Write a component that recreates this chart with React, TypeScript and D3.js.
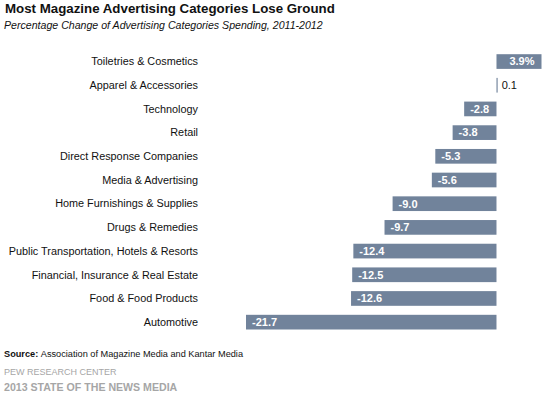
import React, { useEffect, useRef } from 'react';
import * as d3 from 'd3';

const categories = [
  'Toiletries & Cosmetics',
  'Apparel & Accessories',
  'Technology',
  'Retail',
  'Direct Response Companies',
  'Media & Advertising',
  'Home Furnishings & Supplies',
  'Drugs & Remedies',
  'Public Transportation, Hotels & Resorts',
  'Financial, Insurance & Real Estate',
  'Food & Food Products',
  'Automotive',
];
const changes = [3.9, 0.1, -2.8, -3.8, -5.3, -5.6, -9.0, -9.7, -12.4, -12.5, -12.6, -21.7];
const valueLabels = ['3.9%', '0.1', '-2.8', '-3.8', '-5.3', '-5.6', '-9.0', '-9.7', '-12.4', '-12.5', '-12.6', '-21.7'];

const App = () => {
  const svgRef = useRef<SVGSVGElement>(null);

  useEffect(() => {
    const svg = d3.select(svgRef.current);
    svg.selectAll('*').remove();

    const font = 'Arial, "Liberation Sans", sans-serif';
    const barColor = '#71839b';

    const rows = categories.map((c, i) => ({ cat: c, value: changes[i], label: valueLabels[i] }));

    const x = d3.scaleLinear().domain([-21.7, 3.9]).range([246, 541.5]);
    const y = d3.scaleBand()
      .domain(categories)
      .range([49.7, 334])
      .paddingInner(0.38)
      .paddingOuter(0.19);

    // title + subtitle
    svg.append('text')
      .attr('x', 5).attr('y', 13)
      .style('font-family', font).style('font-size', '13.3px').style('font-weight', 'bold')
      .attr('fill', '#111')
      .text('Most Magazine Advertising Categories Lose Ground');
    svg.append('text')
      .attr('x', 4).attr('y', 28.5)
      .style('font-family', font).style('font-size', '10.6px').style('font-style', 'italic')
      .attr('fill', '#111')
      .text('Percentage Change of Advertising Categories Spending, 2011-2012');

    // category labels
    svg.append('g')
      .selectAll('text')
      .data(rows)
      .join('text')
      .attr('x', 198)
      .attr('y', d => y(d.cat)! + y.bandwidth() / 2)
      .attr('dy', '0.35em')
      .attr('text-anchor', 'end')
      .style('font-family', font).style('font-size', '10.85px')
      .attr('fill', '#111')
      .text(d => d.cat);

    // bars
    svg.append('g')
      .selectAll('rect')
      .data(rows)
      .join('rect')
      .attr('x', d => x(Math.min(0, d.value)))
      .attr('y', d => y(d.cat)!)
      .attr('width', d => Math.max(1, Math.abs(x(d.value) - x(0))))
      .attr('height', y.bandwidth())
      .attr('fill', barColor);

    // value labels
    svg.append('g')
      .selectAll('text')
      .data(rows)
      .join('text')
      .attr('x', d => {
        if (d.value < 0) return x(d.value) + 6;
        if (d.value < 1) return x(d.value) + 4;
        return x(d.value) - 7;
      })
      .attr('y', d => y(d.cat)! + y.bandwidth() / 2)
      .attr('dy', '0.35em')
      .attr('text-anchor', d => (d.value >= 1 ? 'end' : 'start'))
      .style('font-family', font).style('font-size', '11px')
      .style('font-weight', d => (d.value < 1 && d.value >= 0 ? 'normal' : 'bold'))
      .attr('fill', d => (d.value < 1 && d.value >= 0 ? '#111' : '#fff'))
      .text(d => d.label);

    // footer
    const src = svg.append('text')
      .attr('x', 4).attr('y', 357)
      .style('font-family', font).style('font-size', '9.2px')
      .attr('fill', '#111');
    src.append('tspan').style('font-weight', 'bold').text('Source: ');
    src.append('tspan').text('Association of Magazine Media and Kantar Media');

    svg.append('text')
      .attr('x', 4).attr('y', 375)
      .style('font-family', font).style('font-size', '9px')
      .attr('fill', '#a6a6a6')
      .text('PEW RESEARCH CENTER');
    svg.append('text')
      .attr('x', 4).attr('y', 390.5)
      .style('font-family', font).style('font-size', '10.6px').style('font-weight', 'bold')
      .attr('fill', '#a6a6a6')
      .text('2013 STATE OF THE NEWS MEDIA');
  }, []);

  return (
    <svg
      ref={svgRef}
      width={548}
      height={398}
      style={{ position: 'absolute', left: 0, top: 0, background: '#fff' }}
    />
  );
};

export default App;
